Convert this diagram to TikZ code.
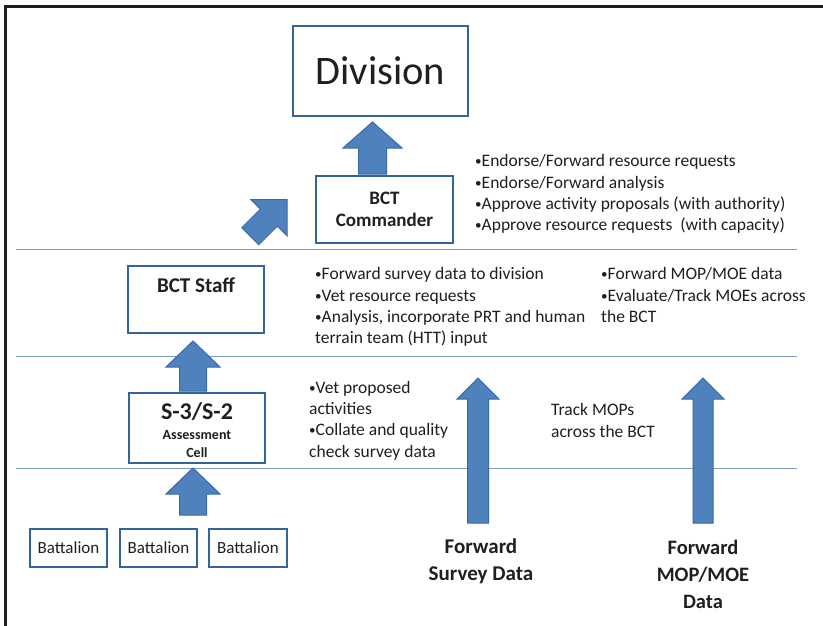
\documentclass[tikz,border=0pt]{standalone}
\usepackage{fontspec}
\setmainfont{Carlito}
\definecolor{boxblue}{HTML}{34649E}
\definecolor{arrowblue}{HTML}{4F81BD}
\definecolor{arrowedge}{HTML}{3A6AA6}
\definecolor{lineblue}{HTML}{7F9DCA}
\definecolor{frameblk}{HTML}{1E1E1E}
\definecolor{txt}{HTML}{1F1F1F}
\newcommand\blkup[6]{%
  \draw[barrow] ({#1},{#2}) -- ({#1+#5},{#3}) -- ({#1+#6},{#3}) -- ({#1+#6},{#4})
    -- ({#1-#6},{#4}) -- ({#1-#6},{#3}) -- ({#1-#5},{#3}) -- cycle;}
\newcommand\bu{\raisebox{1pt}{\scalebox{0.75}{•}}}
\begin{document}
\begin{tikzpicture}[x=1pt,y=-1pt,
  box/.style={draw=boxblue, line width=2pt, fill=white, inner sep=0, text=txt},
  barrow/.style={fill=arrowblue, draw=arrowedge, line width=1pt, line join=miter},
  sepline/.style={draw=lineblue, line width=1pt},
  bul/.style={anchor=north west, align=left, inner sep=0, text=txt, font=\fontsize{17.5}{21.3}\selectfont},
  lab/.style={inner sep=0, text=txt}]
\useasboundingbox (0,0) rectangle (823,626);
\fill[white] (0,0) rectangle (823,626);
\draw[line width=2.5pt, frameblk] (5.5,626) -- (5.5,6.5) -- (823,6.5);

% separator lines
\coordinate (l1a) at (16,249); \coordinate (l1b) at (797,249);
\coordinate (l2a) at (16,356); \coordinate (l2b) at (797,356);
\coordinate (l3a) at (16,468); \coordinate (l3b) at (797,468);
\draw[sepline] (l1a) -- (l1b);
\draw[sepline] (l2a) -- (l2b);
\draw[sepline] (l3a) -- (l3b);

% boxes
\node[box, minimum width=175pt, minimum height=90pt, font=\fontsize{40.5}{40.5}\selectfont] (div) at (380.5,71) {Division};
\node[box, minimum width=137pt, minimum height=67pt, align=center, font=\bfseries\fontsize{19}{22}\selectfont] (cmd) at (384.5,209.5) {BCT\\Commander};
\node[box, minimum width=136pt, minimum height=67pt] (staff) at (196,299.5) {};
\node[lab, font=\bfseries\fontsize{21}{21}\selectfont] (stafft) at (196,285) {BCT Staff};
\node[box, minimum width=136pt, minimum height=70pt] (s3) at (197,428) {};
\node[lab, font=\bfseries\fontsize{24}{24}\selectfont] (s3t) at (197,412) {S-3/S-2};
\node[lab, font=\bfseries\fontsize{14}{14}\selectfont] (s3a) at (197,435) {Assessment};
\node[lab, font=\bfseries\fontsize{14}{14}\selectfont] (s3c) at (197,453) {Cell};
\node[box, minimum width=77pt, minimum height=38pt, font=\fontsize{17}{17}\selectfont] (bn1) at (68.5,548) {Battalion};
\node[box, minimum width=77pt, minimum height=38pt, font=\fontsize{17}{17}\selectfont] (bn2) at (158.5,548) {Battalion};
\node[box, minimum width=78pt, minimum height=38pt, font=\fontsize{17}{17}\selectfont] (bn3) at (248,548) {Battalion};

% block arrows
\blkup{372.5}{122}{148}{174}{29.5}{14}
\blkup{193}{341}{367}{391}{27}{13.5}
\blkup{193}{468}{494}{515}{27}{13.5}
\blkup{478}{378}{399}{523}{21}{10.5}
\blkup{703}{378}{399}{523}{21}{10}
\begin{scope}[shift={(287,199.5)}, rotate=-45]
  \draw[barrow] (0,0) -- (25.5,25.5) -- (12,25.5) -- (12,52) -- (-12,52) -- (-12,25.5) -- (-25.5,25.5) -- cycle;
\end{scope}

% bullet texts
\node[bul] (cmdb) at (475,154.5) {\bu Endorse/Forward resource requests\\\bu Endorse/Forward analysis\\\bu Approve activity proposals (with authority)\\\bu Approve resource requests\ \ (with capacity)};
\node[bul] (staffb) at (315,267.5) {\bu Forward survey data to division\\\bu Vet resource requests\\\bu Analysis, incorporate PRT and human\\terrain team (HTT) input};
\node[bul] (mopb) at (601,267.5) {\bu Forward MOP/MOE data\\\bu Evaluate/Track MOEs across\\the BCT};
\node[bul] (s3b) at (309,381) {\bu Vet proposed\\activities\\\bu Collate and quality\\check survey data};
\node[bul] (track) at (551,403.5) {Track MOPs\\across the BCT};

% bottom labels
\node[lab, anchor=north, align=center, font=\bfseries\fontsize{21}{27}\selectfont] (fsd) at (481,539) {Forward\\Survey Data};
\node[lab, anchor=north, align=center, font=\bfseries\fontsize{20.5}{27}\selectfont] (fmd) at (703,539.5) {Forward\\MOP/MOE\\Data};
\end{tikzpicture}
\end{document}
